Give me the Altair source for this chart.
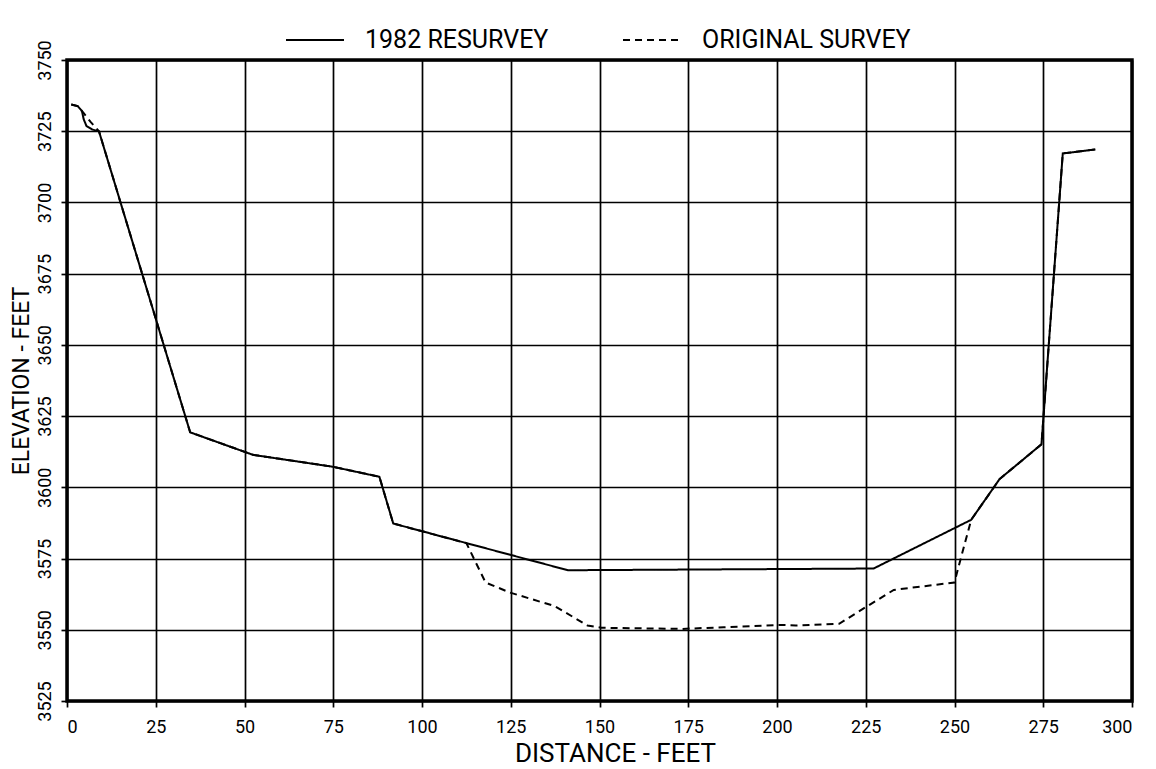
import altair as alt
import pandas as pd

FONT = "Roboto"

# 1982 resurvey profile (distance ft, elevation ft)
resurvey_x = [1.2, 3.0, 4.2, 4.7, 5.5, 7.1, 9.0, 34.7, 52.4, 75.0, 88.0, 91.9,
              141.1, 227.2, 254.7, 262.7, 274.5, 280.5, 289.7]
resurvey_y = [3734.4, 3733.8, 3732.1, 3729.2, 3726.8, 3725.6, 3725.0, 3619.3, 3611.4,
              3607.2, 3603.7, 3587.3, 3570.9, 3571.5, 3588.6, 3602.9, 3615.1, 3717.2, 3718.6]

# original survey profile
original_x = [1.2, 3.0, 4.6, 6.7, 9.0, 34.7, 52.4, 75.0, 88.0, 91.9, 112.5, 117.9,
              124.7, 137.4, 146.6, 150.5, 173.2, 185.0, 201.0, 205.3, 217.5, 224.3,
              232.9, 250.0, 250.9, 254.7, 262.7, 274.5, 280.5, 289.7]
original_y = [3734.4, 3733.8, 3731.5, 3728.2, 3725.0, 3619.3, 3611.4, 3607.2, 3603.7,
              3587.3, 3580.4, 3566.6, 3563.1, 3558.3, 3551.5, 3550.7, 3550.3, 3550.9,
              3551.7, 3551.5, 3552.1, 3557.4, 3564.0, 3566.6, 3571.0, 3588.6, 3602.9,
              3615.1, 3717.2, 3718.6]

series_names = ["1982 RESURVEY", "ORIGINAL SURVEY"]
x_ticks = list(range(0, 301, 25))
y_ticks = list(range(3525, 3751, 25))

df = pd.concat([
    pd.DataFrame({"dist": resurvey_x, "elev": resurvey_y, "series": series_names[0], "k": 1}),
    pd.DataFrame({"dist": original_x, "elev": original_y, "series": series_names[1], "k": 0}),
])

chart = alt.Chart(df).mark_line(strokeWidth=2, color="black").encode(
    x=alt.X("dist:Q",
            scale=alt.Scale(domain=[0, 300], nice=False, zero=False),
            axis=alt.Axis(values=x_ticks, format="d", title="DISTANCE - FEET", titleX=548,
                          labelPadding=11, titlePadding=4)),
    y=alt.Y("elev:Q",
            scale=alt.Scale(domain=[3525, 3750], nice=False, zero=False),
            axis=alt.Axis(values=y_ticks, format="d", title="ELEVATION - FEET", labelAngle=270,
                          labelAlign="center", labelBaseline="bottom",
                          labelPadding=7, titlePadding=3, titleFontSize=23)),
    strokeDash=alt.StrokeDash("series:N",
                              scale=alt.Scale(domain=series_names, range=[[1, 0], [7, 5]]),
                              legend=alt.Legend(title=None, orient="none", legendX=218, legendY=-50,
                                                direction="horizontal", symbolType="stroke",
                                                symbolSize=3364, symbolStrokeWidth=2,
                                                symbolStrokeColor="black",
                                                labelFontSize=25, labelFont=FONT, labelColor="black",
                                                labelOffset=20, columnPadding=70, labelLimit=600,
                                                padding=0)),
    order=alt.Order("k:Q"),
).properties(
    width=1065, height=641,
    background="white",
    autosize=alt.AutoSizeParams(type="none"),
    padding={"left": 59, "top": 52, "right": 15, "bottom": 68},
).configure_view(
    stroke="black", strokeWidth=3.5
).configure_axis(
    grid=True, gridColor="black", gridWidth=1.7, gridOpacity=1,
    domain=False, tickColor="black", tickSize=6, tickWidth=1.7,
    labelFont=FONT, labelFontSize=18, labelColor="black",
    titleFont=FONT, titleFontSize=26, titleFontWeight="normal", titleColor="black",
)

chart.save("out.html", embed_options={"renderer": "svg", "actions": False})
